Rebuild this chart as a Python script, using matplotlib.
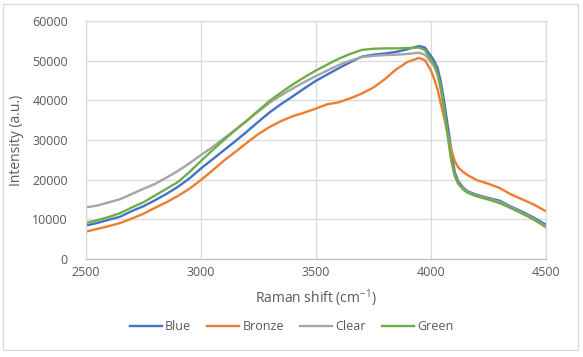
import matplotlib
matplotlib.use("Agg")
import matplotlib.pyplot as plt
from matplotlib.patches import Rectangle

plt.rcParams['font.family'] = ['Open Sans', 'DejaVu Sans']
plt.rcParams['mathtext.fontset'] = 'custom'
plt.rcParams['mathtext.rm'] = 'Open Sans'
plt.rcParams['mathtext.it'] = 'Open Sans'

x = [2500, 2550, 2600, 2650, 2700, 2750, 2800, 2850, 2900, 2950,
     3000, 3050, 3100, 3150, 3200, 3250, 3300, 3350, 3400, 3450,
     3500, 3550, 3600, 3650, 3700, 3750, 3800, 3850, 3900, 3950,
     3975, 4000, 4015, 4030, 4045, 4060, 4075, 4090, 4105, 4120,
     4140, 4160, 4200, 4250, 4300, 4350, 4400, 4450, 4500]

blue = [8450, 9100, 9900, 10700, 12100, 13300, 14800, 16400, 18200, 20300,
        22800, 25100, 27400, 29700, 32100, 34600, 37000, 39100, 41000, 43000,
        44900, 46500, 48100, 49600, 51000, 51500, 51800, 52200, 52900, 53700,
        53300, 51300, 50000, 48200, 44500, 39300, 33400, 27400, 21900, 19600,
        18100, 17100, 16200, 15400, 14700, 13200, 11900, 10400, 8700]
bronze = [6900, 7600, 8300, 9100, 10200, 11400, 12900, 14300, 15900, 17700,
          19900, 22300, 24800, 27000, 29300, 31500, 33300, 34800, 36000, 36900,
          37900, 39000, 39500, 40500, 41700, 43200, 45300, 47800, 49700, 50700,
          50100, 47700, 45500, 42800, 39000, 35300, 31300, 27500, 24700, 23100,
          22000, 21200, 19900, 19000, 17900, 16300, 15000, 13700, 12100]
clear = [13000, 13500, 14300, 15100, 16400, 17700, 18900, 20500, 22200, 24100,
         26200, 28200, 30400, 32600, 34800, 37200, 39400, 41300, 43000, 44600,
         46100, 47500, 48900, 50000, 50900, 51200, 51400, 51500, 51700, 52000,
         51500, 49700, 48600, 46500, 42700, 37000, 30700, 24800, 21000, 19100,
         17800, 16900, 16000, 15200, 14400, 13000, 11600, 10100, 8300]
green = [9100, 9800, 10600, 11600, 13000, 14300, 16000, 17700, 19400, 21900,
         24700, 27400, 30000, 32500, 34900, 37400, 39900, 42000, 44000, 45800,
         47500, 49000, 50500, 51700, 52700, 53000, 53100, 53100, 53200, 53300,
         52700, 50300, 49000, 46800, 42800, 37300, 30900, 24900, 21000, 19000,
         17600, 16700, 15800, 15000, 14100, 12800, 11400, 9900, 8100]

series_names = ["Blue", "Bronze", "Clear", "Green"]
series_vals = [blue, bronze, clear, green]
colors = ["#4472C4", "#ED7D31", "#A5A5A5", "#70AD47"]

x_ticks = [2500, 3000, 3500, 4000, 4500]
y_ticks = [0, 10000, 20000, 30000, 40000, 50000, 60000]

W, H = 583, 357
fig = plt.figure(figsize=(W / 100, H / 100), dpi=100)
fig.patch.set_facecolor("white")
ax = fig.add_axes([86 / W, 1 - 259 / H, (545.5 - 86) / W, (259 - 21) / H])

for name, vals, c in zip(series_names, series_vals, colors):
    ax.plot(x, vals, color=c, lw=1.7, label=name, solid_joinstyle="round")

ax.set_xlim(2500, 4500)
ax.set_ylim(0, 60000)
ax.set_xticks(x_ticks)
ax.set_yticks(y_ticks)
ax.set_xticklabels([str(v) for v in x_ticks])
ax.set_yticklabels([str(v) for v in y_ticks])
ax.grid(True, color="#D9D9D9", lw=0.9)
ax.set_axisbelow(True)
for s in ax.spines.values():
    s.set_color("#D9D9D9")
    s.set_linewidth(0.9)
ax.spines["bottom"].set_color("#BFBFBF")
ax.tick_params(length=0, labelsize=9, colors="#595959")
ax.tick_params(axis="y", pad=13)
ax.tick_params(axis="x", pad=5)

ax.set_xlabel(r"Raman shift (cm$^{-1}$)", fontsize=10, color="#595959", labelpad=6)
ax.set_ylabel("Intensity (a.u.)", fontsize=10, color="#595959", labelpad=6)

leg = fig.legend(loc="center", bbox_to_anchor=(0.5, 1 - 326.5 / H), ncol=4, frameon=False,
                 fontsize=9, handlelength=2.55, columnspacing=1.3, handletextpad=0.25,
                 labelcolor="#595959")

fig.patches.append(Rectangle((3 / W, 1 - 350 / H), 575 / W, 346 / H, transform=fig.transFigure,
                             fill=False, edgecolor="#D9D9D9", lw=0.9))

fig.savefig("out.png", dpi=100)
